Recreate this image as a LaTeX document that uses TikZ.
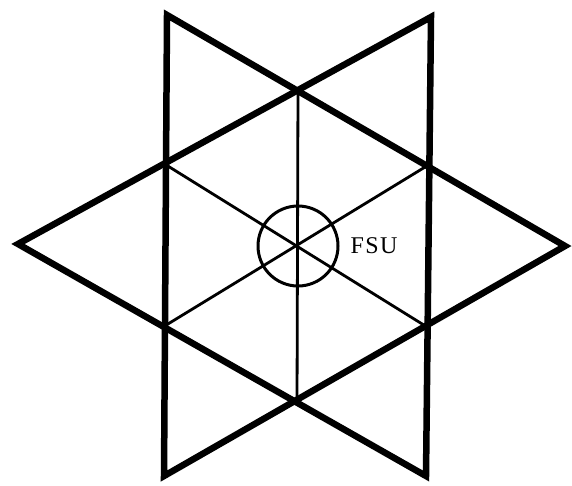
\documentclass[tikz,border=0pt]{standalone}
\usepackage{fontspec}
\setmainfont{Liberation Serif}
\begin{document}
\begin{tikzpicture}[x=1pt,y=-1pt,
  thickline/.style={line width=6.5pt,line join=miter,miter limit=10},
  thinline/.style={line width=2.8pt},
  ring/.style={line width=3pt}]
\useasboundingbox (0,0) rectangle (572,485);
% outer triangle vertices
\coordinate (TL) at (167,15);
\coordinate (R) at (565,246);
\coordinate (BL) at (164,476);
\coordinate (TR) at (431,17);
\coordinate (L) at (18,244);
\coordinate (BR) at (426,476);
% inner points
\coordinate (T) at (298,88);
\coordinate (B) at (297,404);
\coordinate (UL) at (163,163);
\coordinate (UR) at (430,164);
\coordinate (LL) at (163,327);
\coordinate (LR) at (427,327);
\coordinate (C) at (298,246);
\draw[thickline] (TL) -- (BL) -- (R) -- cycle;
\draw[thickline] (TR) -- (BR) -- (L) -- cycle;
\draw[thinline] (T) -- (B);
\draw[thinline] (UL) -- (LR);
\draw[thinline] (LL) -- (UR);
\draw[ring] (C) circle (40);
\node (fsu) at (374,246) {\fontsize{24}{24}\selectfont\addfontfeature{LetterSpace=6}FSU};
\end{tikzpicture}
\end{document}
